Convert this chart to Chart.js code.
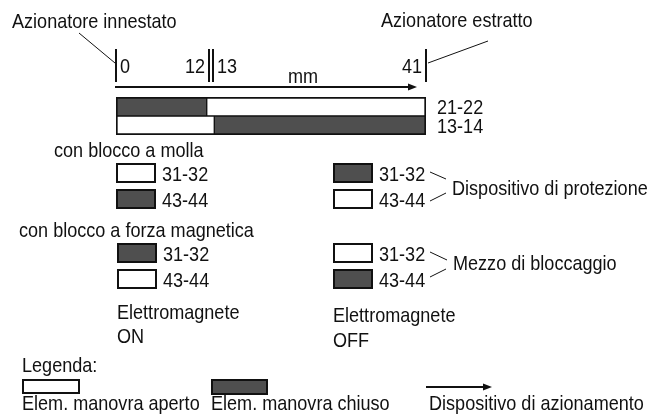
<!DOCTYPE html>
<html>
<head>
<meta charset="utf-8">
<script src="https://cdn.jsdelivr.net/npm/chart.js@4.4.1/dist/chart.umd.min.js"></script>
<style>
  html, body { margin: 0; padding: 0; background: #fff; }
  #wrap { width: 652px; height: 415px; position: relative; }
</style>
</head>
<body>
<div id="wrap"><canvas id="myChart"></canvas></div>
<script>
// travel diagram data (mm)
var travelTicks = [0, 12, 13, 41];
var travelMax = 41;
var contacts = ['21-22', '13-14'];
var closedStart = [0, 13];
var closedEnd = [12, 41];
var openStart = [12, 0];
var openEnd = [41, 13];

// auxiliary contacts states
var lockContacts = ['31-32', '43-44'];
var springLockOn = ['open', 'closed'];
var magnetLockOn = ['closed', 'open'];
var protectionOff = ['closed', 'open'];
var lockingOff = ['open', 'closed'];

var DARK = '#4f4f4f';
var INK = '#111';

function txt(ctx, s, x, y, align) {
  ctx.save();
  ctx.translate(x, y);
  ctx.scale(0.86, 1);
  ctx.font = '21px "Liberation Sans", Arial, sans-serif';
  ctx.textAlign = align || 'left';
  ctx.textBaseline = 'alphabetic';
  ctx.fillStyle = INK;
  ctx.fillText(s, 0, 0);
  ctx.restore();
}

function line(ctx, x1, y1, x2, y2, w) {
  ctx.beginPath();
  ctx.lineWidth = w;
  ctx.strokeStyle = INK;
  ctx.moveTo(x1, y1);
  ctx.lineTo(x2, y2);
  ctx.stroke();
}

function arrow(ctx, x1, x2, y) {
  line(ctx, x1, y, x2 - 6, y, 2);
  ctx.beginPath();
  ctx.fillStyle = INK;
  ctx.moveTo(x2, y);
  ctx.lineTo(x2 - 9, y - 3.5);
  ctx.lineTo(x2 - 9, y + 3.5);
  ctx.closePath();
  ctx.fill();
}

function box(ctx, x, y, w, h, state) {
  ctx.fillStyle = state === 'closed' ? DARK : '#fff';
  ctx.fillRect(x, y, w, h);
  ctx.lineWidth = 2;
  ctx.strokeStyle = INK;
  ctx.strokeRect(x + 1, y + 1, w - 2, h - 2);
}

function contactPair(ctx, x, y, states, gap) {
  for (var i = 0; i < states.length; i++) {
    var yy = y + i * gap;
    box(ctx, x, yy, 40, 20, states[i]);
    txt(ctx, lockContacts[i], x + 46, yy + 18);
  }
}

var diagram = {
  id: 'diagram',
  afterDraw: function (chart) {
    var ctx = chart.ctx;
    var xs = chart.scales.x;
    ctx.save();

    // travel ticks and labels
    travelTicks.forEach(function (t) {
      var px = Math.round(xs.getPixelForValue(t));
      if (t === 12) px += 2;
      if (t === 13) px -= 1;
      line(ctx, px, 49, px, 82, 2);
      var right = (t === 12 || t === travelMax);
      txt(ctx, String(t), right ? px - 4 : px + 4, 73, right ? 'right' : 'left');
    });
    arrow(ctx, xs.getPixelForValue(0) - 1, xs.getPixelForValue(travelMax) - 9, 87);
    txt(ctx, 'mm', 288, 83);

    txt(ctx, 'Azionatore innestato', 12, 28);
    line(ctx, 79, 33, xs.getPixelForValue(0) - 1, 63, 1);
    txt(ctx, 'Azionatore estratto', 381, 27);
    line(ctx, 488, 41, xs.getPixelForValue(travelMax) + 2, 63, 1);

    contacts.forEach(function (c, i) {
      var m = chart.getDatasetMeta(0).data[i];
      txt(ctx, c, 437, m.y + 7);
    });

    // left column
    txt(ctx, 'con blocco a molla', 54, 157);
    contactPair(ctx, 116, 163, springLockOn, 26);
    txt(ctx, 'con blocco a forza magnetica', 19, 237);
    contactPair(ctx, 117, 243, magnetLockOn, 26);
    txt(ctx, 'Elettromagnete', 117, 319);
    txt(ctx, 'ON', 117, 343);

    // right column
    contactPair(ctx, 333, 163, protectionOff, 26);
    line(ctx, 430, 172, 446, 179, 1);
    line(ctx, 430, 201, 446, 193, 1);
    txt(ctx, 'Dispositivo di protezione', 452, 195);
    contactPair(ctx, 333, 243, lockingOff, 26);
    line(ctx, 430, 252, 447, 260, 1);
    line(ctx, 430, 277, 446, 269, 1);
    txt(ctx, 'Mezzo di bloccaggio', 453, 270);
    txt(ctx, 'Elettromagnete', 333, 322);
    txt(ctx, 'OFF', 333, 347);

    // legend
    txt(ctx, 'Legenda:', 22, 372);
    box(ctx, 22, 379, 58, 15, 'open');
    box(ctx, 211, 379, 57, 16, 'closed');
    arrow(ctx, 426, 492, 387);
    txt(ctx, 'Elem. manovra aperto', 22, 410);
    txt(ctx, 'Elem. manovra chiuso', 211, 410);
    txt(ctx, 'Dispositivo di azionamento', 429, 410);

    ctx.restore();
  }
};

function edgeWidths(starts, ends) {
  return function (c) {
    var i = c.dataIndex;
    return {
      left: starts[i] === 0 ? 2 : 1,
      right: ends[i] === travelMax ? 2 : 1,
      top: i === 0 ? 2 : 1,
      bottom: i === contacts.length - 1 ? 2 : 1
    };
  };
}

window.onload = function () {
  var ctx = document.getElementById('myChart');
  new Chart(ctx, {
    type: 'bar',
    data: {
      labels: contacts,
      datasets: [{
        label: 'chiuso',
        data: contacts.map(function (c, i) { return [closedStart[i], closedEnd[i]]; }),
        backgroundColor: DARK,
        borderColor: INK,
        borderWidth: edgeWidths(closedStart, closedEnd),
        borderSkipped: false,
        grouped: false,
        barPercentage: 1,
        categoryPercentage: 1
      }, {
        label: 'aperto',
        data: contacts.map(function (c, i) { return [openStart[i], openEnd[i]]; }),
        backgroundColor: '#fff',
        borderColor: INK,
        borderWidth: edgeWidths(openStart, openEnd),
        borderSkipped: false,
        grouped: false,
        barPercentage: 1,
        categoryPercentage: 1
      }]
    },
    options: {
      indexAxis: 'y',
      animation: false,
      responsive: true,
      maintainAspectRatio: false,
      devicePixelRatio: 1,
      layout: { padding: { left: 116, right: 226, top: 97, bottom: 280 } },
      scales: {
        x: { type: 'linear', min: 0, max: travelMax, display: false },
        y: { display: false }
      },
      plugins: {
        legend: { display: false },
        tooltip: { enabled: false }
      }
    },
    plugins: [diagram]
  });
};
</script>
</body>
</html>
